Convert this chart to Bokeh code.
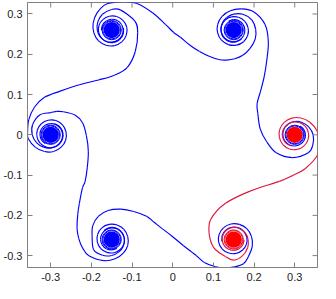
import numpy as np
from bokeh.plotting import figure
from bokeh.models import FixedTicker, Range1d
from bokeh.embed import file_html
from bokeh.resources import INLINE

BLUE = "#0000ff"
RED_LINE = "#e0143c"
RED_FILL = "#ff0000"
FRAME = "#808080"

# ---- vortex centres (TL, TR, R, BR, BL, L) ----
vort_x = [-0.15, 0.15, 0.30, 0.15, -0.15, -0.30]
vort_y = [0.26, 0.26, 0.0, -0.26, -0.26, 0.0]
vort_rot = [0, -60, -120, -180, -240, 60]          # orientation of each spiral, degrees
core_color = [BLUE, BLUE, RED_FILL, RED_FILL, BLUE, BLUE]
ring_color = [BLUE, BLUE, BLUE, RED_LINE, BLUE, BLUE]

# ---- spiral arms (angle in degrees relative to orientation, radius) ----
arm_a_ang = [130, 160, 190, 220, 250, 280, 310, 340, 370, 400, 430, 460, 490,
             520, 550, 580, 610, 640, 670, 700, 730]
arm_a_r = [0.0559, 0.0486, 0.0443, 0.0420, 0.0401, 0.0392, 0.0384, 0.0380, 0.0377,
           0.0368, 0.0358, 0.0349, 0.0340, 0.0333, 0.0325, 0.0318, 0.0314, 0.0309,
           0.0304, 0.0300, 0.0295]
arm_b_ang = [90, 120, 150, 180, 210, 240, 270, 300, 330, 360, 390, 420, 450, 480, 510, 540]
arm_b_r = [0.0512, 0.0453, 0.0396, 0.0354, 0.0330, 0.0311, 0.0300, 0.0292, 0.0288,
           0.0283, 0.0278, 0.0274, 0.0269, 0.0264, 0.0259, 0.0255]

core_r = 0.0200
ring_r = [0.0218, 0.0237]

# ---- connecting filaments (from arm A of one vortex to arm B of the next) ----
c1_x = [-0.1627, -0.1274, -0.0880, -0.0488, -0.0172, 0.0024, 0.0189, 0.0425, 0.0660,
        0.0896, 0.1132, 0.1328, 0.1526, 0.1722, 0.1903, 0.2030, 0.2040]
c1_y = [0.3248, 0.3302, 0.3262, 0.3026, 0.2736, 0.2540, 0.2422, 0.2224, 0.2068,
        0.1950, 0.1870, 0.1856, 0.1887, 0.1974, 0.2146, 0.2380, 0.2620]
c2_x = [0.1998, 0.2271, 0.2351, 0.2311, 0.2248, 0.2160, 0.2075, 0.2092, 0.2153,
        0.2311, 0.2547, 0.2941, 0.3333]
c2_y = [0.3050, 0.2736, 0.2304, 0.1833, 0.1439, 0.1085, 0.0771, 0.0535, 0.0142,
        -0.0172, -0.0448, -0.0566, -0.0448]
c3_x = [0.3585, 0.3568, 0.3255, 0.2941, 0.2625, 0.1917, 0.1290, 0.0936, 0.0896,
        0.1014, 0.1290]
c3_y = [-0.0165, -0.0488, -0.0842, -0.1014, -0.1156, -0.1392, -0.1705, -0.2099,
        -0.2453, -0.2807, -0.3019]
c4_x = [0.1745, 0.1526, 0.1274, 0.1054, 0.0778, 0.0583, 0.0259, -0.0047, -0.0252,
        -0.0472, -0.0644, -0.0960, -0.1274, -0.1587, -0.1823, -0.1965, -0.1981]
c4_y = [-0.3196, -0.3278, -0.3302, -0.3278, -0.3172, -0.3002, -0.2748, -0.2493,
        -0.2335, -0.2158, -0.2021, -0.1903, -0.1847, -0.1880, -0.2021, -0.2257, -0.2531]
c5_x = [-0.2059, -0.2217, -0.2311, -0.2351, -0.2335, -0.2295, -0.2217, -0.2153,
        -0.2099, -0.2075, -0.2123, -0.2217, -0.2413, -0.2689, -0.2850, -0.3000, -0.3260]
c5_y = [-0.3002, -0.2807, -0.2571, -0.2335, -0.1981, -0.1705, -0.1314, -0.1156,
        -0.0802, -0.0408, -0.0017, 0.0300, 0.0495, 0.0573, 0.0580, 0.0550, 0.0500]
c6_x = [-0.3568, -0.3538, -0.3396, -0.3160, -0.2767, -0.2295, -0.1823, -0.1432,
        -0.1116, -0.0920, -0.0861, -0.0934, -0.1287]
c6_y = [0.0064, 0.0377, 0.0691, 0.0927, 0.1085, 0.1243, 0.1361, 0.1479, 0.1675,
        0.2068, 0.2547, 0.2829, 0.3102]
connectors = [  # (from vortex, to vortex, xs, ys, colour)
    (0, 1, c1_x, c1_y, BLUE),
    (1, 2, c2_x, c2_y, BLUE),
    (2, 3, c3_x, c3_y, RED_LINE),
    (3, 4, c4_x, c4_y, BLUE),
    (4, 5, c5_x, c5_y, BLUE),
    (5, 0, c6_x, c6_y, BLUE),
]

x_ticks = [-0.3, -0.2, -0.1, 0.0, 0.1, 0.2, 0.3]
x_tick_labels = ["-0.3", "-0.2", "-0.1", "0", "0.1", "0.2", "0.3"]
y_ticks = [-0.3, -0.2, -0.1, 0.0, 0.1, 0.2, 0.3]
y_tick_labels = ["-0.3", "-0.2", "-0.1", "0", "0.1", "0.2", "0.3"]

X_LO, X_HI = -0.357, 0.356
Y_LO, Y_HI = -0.3295, 0.3285


def spiral(k, ang, rad):
    a = np.radians(np.asarray(ang, float) + vort_rot[k])
    r = np.asarray(rad, float)
    return vort_x[k] + r * np.cos(a), vort_y[k] + r * np.sin(a)


def smooth_segments(X, Y):
    """Catmull-Rom style cubic segments through the given points (for drawing)."""
    X = np.asarray(X, float)
    Y = np.asarray(Y, float)
    Xp = np.concatenate([[X[0]], X, [X[-1]]])
    Yp = np.concatenate([[Y[0]], Y, [Y[-1]]])
    n = len(X) - 1
    i = np.arange(n) + 1
    return dict(
        x0=Xp[i], y0=Yp[i], x1=Xp[i + 1], y1=Yp[i + 1],
        cx0=Xp[i] + (Xp[i + 1] - Xp[i - 1]) / 6.0,
        cy0=Yp[i] + (Yp[i + 1] - Yp[i - 1]) / 6.0,
        cx1=Xp[i + 1] - (Xp[i + 2] - Xp[i]) / 6.0,
        cy1=Yp[i + 1] - (Yp[i + 2] - Yp[i]) / 6.0,
    )


p = figure(width=320, height=283, output_backend="svg", toolbar_location=None,
           x_range=Range1d(X_LO, X_HI), y_range=Range1d(Y_LO, Y_HI),
           min_border_left=0, min_border_right=3, min_border_top=2, min_border_bottom=0)
p.xgrid.visible = False
p.ygrid.visible = False
p.outline_line_color = FRAME
p.outline_line_width = 1
p.background_fill_color = "white"

# each filament: inner part of arm A of one vortex, the connecting stretch,
# then arm B of the next vortex
for layer in (BLUE, RED_LINE):
    for (i, j, xs, ys, col) in connectors:
        if col != layer:
            continue
        ax_, ay_ = spiral(i, arm_a_ang, arm_a_r)
        bx_, by_ = spiral(j, arm_b_ang, arm_b_r)
        X = list(ax_[::-1]) + list(xs) + list(bx_)
        Y = list(ay_[::-1]) + list(ys) + list(by_)
        p.bezier(line_color=col, line_width=1.15, **smooth_segments(X, Y))

for k in range(6):
    p.circle(x=[vort_x[k]], y=[vort_y[k]], radius=core_r, fill_color=core_color[k],
             line_color=None)
    for rr in ring_r:
        p.circle(x=[vort_x[k]], y=[vort_y[k]], radius=rr, fill_color=None,
                 line_color=ring_color[k], line_width=1.0)

# axes: ticks inward on all four sides
for ax, ticks, labels in ((p.xaxis[0], x_ticks, x_tick_labels),
                          (p.yaxis[0], y_ticks, y_tick_labels)):
    ax.ticker = FixedTicker(ticks=ticks)
    ax.major_label_overrides = {t: l for t, l in zip(ticks, labels)}
    ax.minor_tick_line_color = None
    ax.major_tick_in = 5
    ax.major_tick_out = 0
    ax.major_tick_line_color = FRAME
    ax.axis_line_color = FRAME
    ax.major_label_text_font = "Liberation Sans"
    ax.major_label_text_font_size = "11px"
    ax.major_label_text_color = "#222222"
    ax.major_label_standoff = 5

# mirrored inward ticks on the top and right edges of the frame
p.ray(x=x_ticks, y=[Y_HI] * len(x_ticks), length=5, length_units="screen",
      angle=-np.pi / 2, line_color=FRAME, line_width=1)
p.ray(x=[X_HI] * len(y_ticks), y=y_ticks, length=5, length_units="screen",
      angle=np.pi, line_color=FRAME, line_width=1)

open("out.html", "w").write(file_html(p, INLINE))
